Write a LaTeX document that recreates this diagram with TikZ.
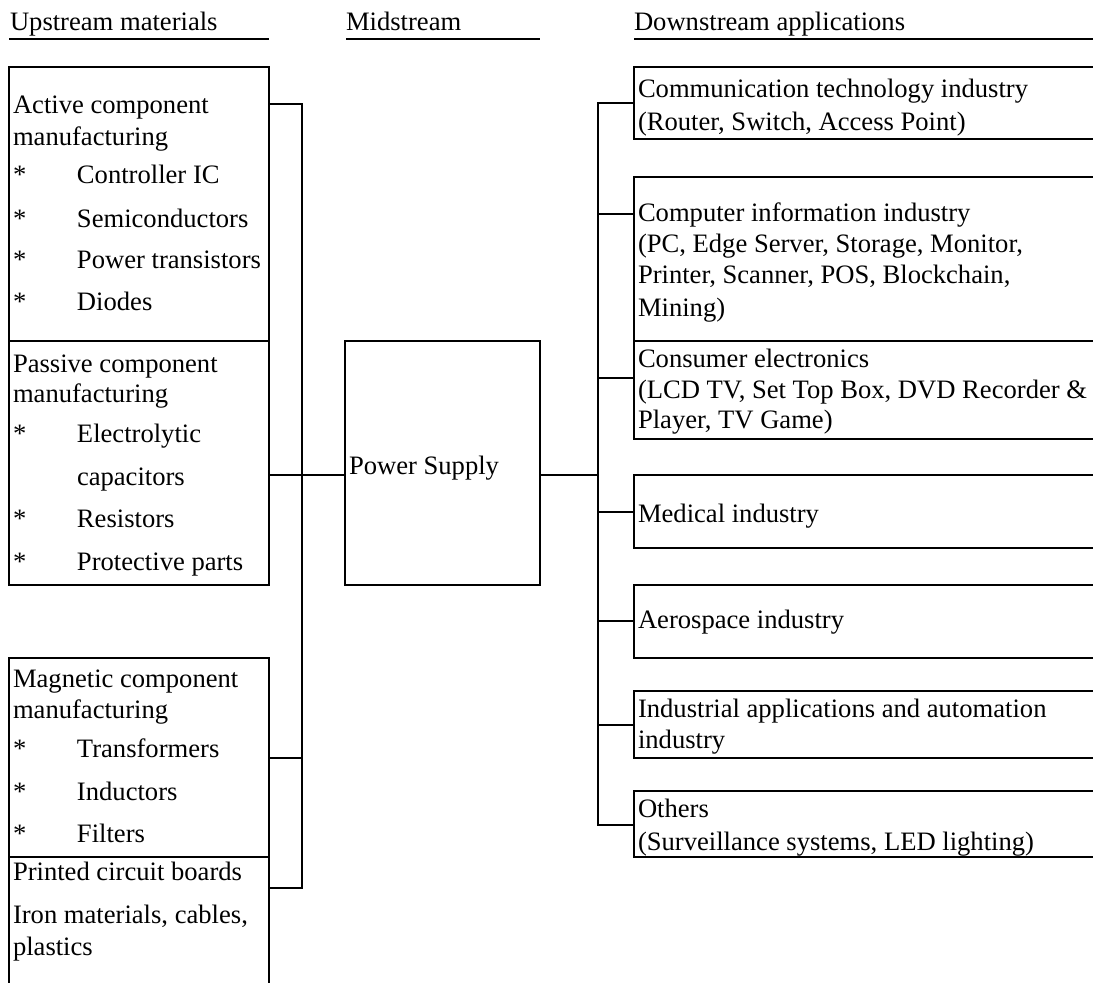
\documentclass[tikz,border=0pt]{standalone}
\usepackage{fontspec}
\setmainfont{Liberation Serif}
\newcommand\bul[1]{\makebox[64pt][l]{*}#1}
\begin{document}
\begin{tikzpicture}[x=1pt,y=-1pt,
  box/.style={draw, line width=2.2pt, inner sep=0pt, outer sep=0pt, anchor=north west},
  txt/.style={anchor=base west, inner sep=0pt, outer sep=0pt, font=\fontsize{26.6}{32}\selectfont},
  wire/.style={line width=2.2pt},
  rulebar/.style={line width=2.2pt}]
\useasboundingbox (0,0) rectangle (1093,983);
\clip (0,0) rectangle (1093,983);

% headers
\node[txt] (h1) at (10,30) {Upstream materials};
\node[txt] (h2) at (346,30) {Midstream};
\node[txt] (h3) at (634,30) {Downstream applications};
\coordinate (u1a) at (9,39);   \coordinate (u1b) at (269,39);
\coordinate (u2a) at (346,39); \coordinate (u2b) at (540,39);
\coordinate (u3a) at (634,39); \coordinate (u3b) at (1100,39);
\draw[rulebar] (u1a) -- (u1b);
\draw[rulebar] (u2a) -- (u2b);
\draw[rulebar] (u3a) -- (u3b);

% upstream boxes
\node[box, minimum width=260pt, minimum height=274pt] (act) at (9,67) {};
\node[box, minimum width=260pt, minimum height=244pt] (pas) at (9,341) {};
\node[box, minimum width=260pt, minimum height=199pt] (mag) at (9,658) {};
\node[box, minimum width=260pt, minimum height=170pt] (pcb) at (9,857) {};

\node[txt] (a1) at (13,113) {Active component};
\node[txt] (a2) at (13,145) {manufacturing};
\node[txt] (a3) at (13,183) {\bul{Controller IC}};
\node[txt] (a4) at (13,227) {\bul{Semiconductors}};
\node[txt] (a5) at (13,268) {\bul{Power transistors}};
\node[txt] (a6) at (13,310) {\bul{Diodes}};

\node[txt] (p1) at (13,372) {Passive component};
\node[txt] (p2) at (13,402) {manufacturing};
\node[txt] (p3) at (13,442) {\bul{Electrolytic}};
\node[txt] (p4) at (77,485) {capacitors};
\node[txt] (p5) at (13,527) {\bul{Resistors}};
\node[txt] (p6) at (13,570) {\bul{Protective parts}};

\node[txt] (m1) at (13,687) {Magnetic component};
\node[txt] (m2) at (13,718) {manufacturing};
\node[txt] (m3) at (13,757) {\bul{Transformers}};
\node[txt] (m4) at (13,800) {\bul{Inductors}};
\node[txt] (m5) at (13,842) {\bul{Filters}};

\node[txt] (b1) at (13,880) {Printed circuit boards};
\node[txt] (b2) at (13,923) {Iron materials, cables,};
\node[txt] (b3) at (13,955) {plastics};

% midstream
\node[box, minimum width=195pt, minimum height=244pt] (ps) at (345,341) {};
\node[txt] (pst) at (349,474) {Power Supply};

% downstream boxes
\node[box, minimum width=480pt, minimum height=72pt]  (r1) at (634,67) {};
\node[box, minimum width=480pt, minimum height=164pt] (r2) at (634,177) {};
\node[box, minimum width=480pt, minimum height=98pt]  (r3) at (634,341) {};
\node[box, minimum width=480pt, minimum height=73pt]  (r4) at (634,475) {};
\node[box, minimum width=480pt, minimum height=73pt]  (r5) at (634,585) {};
\node[box, minimum width=480pt, minimum height=67pt]  (r6) at (634,691) {};
\node[box, minimum width=480pt, minimum height=66pt]  (r7) at (634,791) {};

\node[txt] (c1) at (638,97)  {Communication technology industry};
\node[txt] (c2) at (638,130) {(Router, Switch, Access Point)};
\node[txt] (d1) at (638,221) {Computer information industry};
\node[txt] (d2) at (638,252) {(PC, Edge Server, Storage, Monitor,};
\node[txt] (d3) at (638,283) {Printer, Scanner, POS, Blockchain,};
\node[txt] (d4) at (638,316) {Mining)};
\node[txt] (e1) at (638,367) {Consumer electronics};
\node[txt] (e2) at (638,398) {(LCD TV, Set Top Box, DVD Recorder \&};
\node[txt] (e3) at (638,428) {Player, TV Game)};
\node[txt] (f1) at (638,522) {Medical industry};
\node[txt] (g1) at (638,628) {Aerospace industry};
\node[txt] (i1) at (638,717) {Industrial applications and automation};
\node[txt] (i2) at (638,748) {industry};
\node[txt] (o1) at (638,817) {Others};
\node[txt] (o2) at (638,850) {(Surveillance systems, LED lighting)};

% left bus
\coordinate (bl1) at (302,104);
\coordinate (bl2) at (302,888);
\coordinate (blm) at (302,758);
\coordinate (mid) at (302,475);
\draw[wire] (act.east |- bl1) -- (bl1) -- (bl2) -- (pcb.east |- bl2);
\draw[wire] (mag.east |- blm) -- (blm);
\draw[wire] (pas.east |- mid) -- (ps.west |- mid);

% right bus
\coordinate (br1) at (598,103);
\coordinate (br2) at (598,214);
\coordinate (br3) at (598,378);
\coordinate (brm) at (598,475);
\coordinate (br4) at (598,512);
\coordinate (br5) at (598,621);
\coordinate (br6) at (598,725);
\coordinate (br7) at (598,825);
\draw[wire] (ps.east |- brm) -- (brm);
\draw[wire] (r1.west |- br1) -- (br1) -- (br7) -- (r7.west |- br7);
\draw[wire] (br2) -- (r2.west |- br2);
\draw[wire] (br3) -- (r3.west |- br3);
\draw[wire] (br4) -- (r4.west |- br4);
\draw[wire] (br5) -- (r5.west |- br5);
\draw[wire] (br6) -- (r6.west |- br6);
\end{tikzpicture}
\end{document}
